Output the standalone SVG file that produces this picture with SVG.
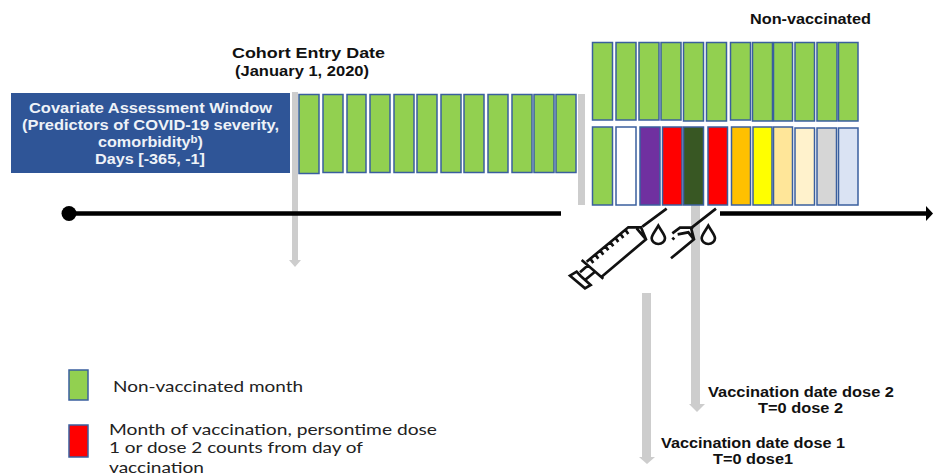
<svg xmlns="http://www.w3.org/2000/svg" width="933" height="476" viewBox="0 0 933 476">
<style>
.b{font:bold 14px "Liberation Sans",Arial,sans-serif;fill:#111}
.w{font:bold 14px "Liberation Sans",Arial,sans-serif;fill:#eef2f8}
.l{font:16px Lato,"Open Sans",sans-serif;fill:#222}
.m{stroke:#3a5f9e;stroke-width:1.5}
.g{fill:#92d050}
.gr{fill:#cdcdcd}
.ic{fill:none;stroke:#111;stroke-width:8}
</style>
<g id="connectors">
<path class="gr" d="M292 92h6v168h3l-6 7-6-7h3z"/>
<rect class="gr" x="578" y="94" width="7" height="111"/>
<path class="gr" d="M642 293h9v164h4l-8 7-8-7h3z"/>
<path class="gr" d="M691 205h9v199h5l-8 8-8-8h2z"/>
<path d="M69 213.500H561M720 213.500H926" stroke="#000" stroke-width="4.500" fill="none"/>
<path d="M926 206l7 7.500-7 7.500z" fill="#000"/>
<circle cx="69" cy="213.500" r="7.500" fill="#000"/>
</g>
<g id="covariate-window">
<rect x="11" y="93" width="279" height="80" fill="#2f5597"/>
<text class="w" x="29" y="113" textLength="243" lengthAdjust="spacingAndGlyphs">Covariate Assessment Window</text>
<text class="w" x="22" y="130" textLength="257" lengthAdjust="spacingAndGlyphs">(Predictors of COVID-19 severity,</text>
<text class="w" x="98" y="147" textLength="105" lengthAdjust="spacingAndGlyphs">comorbidity<tspan font-size="10" dy="-4">b</tspan><tspan dy="4">)</tspan></text>
<text class="w" x="95" y="164" textLength="110" lengthAdjust="spacingAndGlyphs">Days [-365, -1]</text>
</g>
<g id="cohort-entry">
<text class="b" x="232" y="58" textLength="153" lengthAdjust="spacingAndGlyphs">Cohort Entry Date</text>
<text class="b" x="235" y="76" textLength="134" lengthAdjust="spacingAndGlyphs">(January 1, 2020)</text>
</g>
<g id="baseline-months">
<rect class="g m" x="299" y="94.500" width="20" height="79"/>
<rect class="g m" x="323" y="94.500" width="20" height="78"/>
<rect class="g m" x="347" y="94.500" width="19" height="78"/>
<rect class="g m" x="370" y="94.500" width="20" height="78"/>
<rect class="g m" x="394" y="94.500" width="20" height="78"/>
<rect class="g m" x="417" y="94.500" width="20" height="78"/>
<rect class="g m" x="441" y="94.500" width="20" height="78"/>
<rect class="g m" x="464" y="94.500" width="20" height="78"/>
<rect class="g m" x="488" y="94.500" width="20" height="78"/>
<rect class="g m" x="512" y="94.500" width="20" height="78"/>
<rect class="g m" x="534" y="94.500" width="20" height="78"/>
<rect class="g m" x="556" y="94.500" width="20" height="78"/>
</g>
<g id="non-vaccinated-row">
<text class="b" x="750" y="24" textLength="121" lengthAdjust="spacingAndGlyphs">Non-vaccinated</text>
<rect class="g m" x="592.500" y="42.500" width="20" height="77.500"/>
<rect class="g m" x="616" y="42.500" width="20" height="77.500"/>
<rect class="g m" x="639" y="42.500" width="20" height="77.500"/>
<rect class="g m" x="661" y="42.500" width="20" height="77.500"/>
<rect class="g m" x="683.500" y="42.500" width="20" height="78.500"/>
<rect class="g m" x="706.500" y="42.500" width="20" height="78.500"/>
<rect class="g m" x="730.500" y="42.500" width="20" height="77.500"/>
<rect class="g m" x="752.500" y="42.500" width="20" height="78.500"/>
<rect class="g m" x="773.500" y="42.500" width="19" height="78.500"/>
<rect class="g m" x="795" y="42.500" width="19.500" height="78.500"/>
<rect class="g m" x="817" y="42.500" width="20" height="78.500"/>
<rect class="g m" x="838.500" y="42.500" width="19.500" height="78.500"/>
</g>
<g id="vaccinated-row">
<rect class="g m" x="592.500" y="127" width="20" height="78"/>
<rect class="m" fill="#fff" x="616" y="127" width="20" height="78"/>
<rect class="m" fill="#7030a0" x="640" y="127" width="20" height="78"/>
<rect class="m" fill="#f00" x="662.500" y="127" width="19.500" height="78"/>
<rect class="m" fill="#385723" x="683.500" y="127" width="20" height="78"/>
<rect class="m" fill="#f00" x="708" y="127" width="19.500" height="78"/>
<rect class="m" fill="#ffc000" x="731.500" y="127" width="19" height="78"/>
<rect class="m" fill="#ff0" x="753" y="127" width="19" height="78"/>
<rect class="m" fill="#ffe699" x="773.500" y="127" width="19" height="78"/>
<rect class="m" fill="#fff2cc" x="795" y="128" width="19.500" height="77"/>
<rect class="m" fill="#d6d6d6" x="817" y="128" width="19.500" height="77"/>
<rect class="m" fill="#dae3f3" x="838.500" y="128" width="19.500" height="77"/>
</g>
<g id="syringe-dose-1" class="ic" transform="translate(560 190) scale(.3333)">
<path d="M320 56L247 110M80 215L205 112H243L258 148L125 260M65 210L130 266M105 245L75 270M85 225L60 247M30 257L50 245L62 258L92 285L75 295ZM90 205L100 219M105 192L115 206M120 180L130 194M135 167L145 181M150 155L160 169M165 142L175 156M180 130L190 144M195 118L205 132M230 115L258 148"/>
<path d="M295 107C285 125 275 135 275 145A20 17 0 0 0 315 145C315 135 305 125 295 107Z"/>
</g>
<g id="syringe-dose-2" class="ic" transform="translate(560 190) scale(.3333)">
<path d="M468 56L395 113M400 113H360L337 130M337 143L343 149M353 133L385 127L402 148M393 113L402 148L333 205"/>
<path d="M445 107C435 125 425 135 425 145A20 17 0 0 0 465 145C465 135 455 125 445 107Z"/>
</g>
<g id="legend-non-vaccinated">
<rect class="g m" x="69" y="370" width="19" height="30"/>
<text class="l" x="113" y="392" textLength="190" lengthAdjust="spacingAndGlyphs">Non-vaccinated month</text>
</g>
<g id="legend-vaccination">
<rect class="m" fill="#f00" x="69" y="425" width="19" height="32"/>
<text class="l" x="109" y="434.500" textLength="328" lengthAdjust="spacingAndGlyphs">Month of vaccination, persontime dose</text>
<text class="l" x="109" y="453.300" textLength="254" lengthAdjust="spacingAndGlyphs">1 or dose 2 counts from day of</text>
<text class="l" x="109" y="472.500" textLength="95" lengthAdjust="spacingAndGlyphs">vaccination</text>
</g>
<g id="label-dose-2">
<text class="b" x="708" y="397" textLength="186" lengthAdjust="spacingAndGlyphs">Vaccination date dose 2</text>
<text class="b" x="758" y="413" textLength="85" lengthAdjust="spacingAndGlyphs">T=0 dose 2</text>
</g>
<g id="label-dose-1">
<text class="b" x="661" y="448" textLength="184" lengthAdjust="spacingAndGlyphs">Vaccination date dose 1</text>
<text class="b" x="713" y="464" textLength="80" lengthAdjust="spacingAndGlyphs">T=0 dose1</text>
</g>
</svg>
